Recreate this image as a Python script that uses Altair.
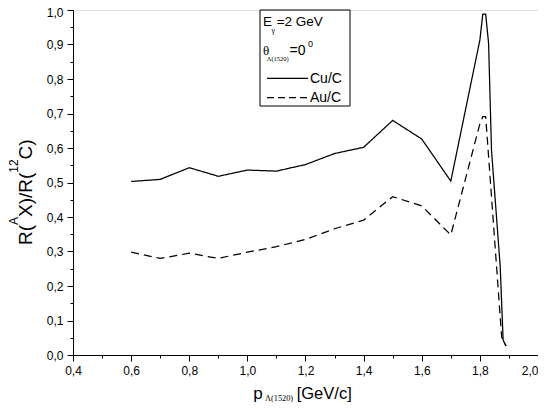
import altair as alt
import pandas as pd

# ---- data ----
cu_p = [0.6, 0.7, 0.8, 0.9, 1.0, 1.1, 1.2, 1.3, 1.4, 1.5, 1.6, 1.7, 1.8, 1.81, 1.82, 1.83, 1.84, 1.87, 1.88, 1.89]
cu_r = [0.503, 0.509, 0.543, 0.518, 0.536, 0.533, 0.552, 0.584, 0.602, 0.680, 0.626, 0.504,
        0.913, 0.988, 0.988, 0.903, 0.594, 0.256, 0.043, 0.026]
au_p = [0.6, 0.7, 0.8, 0.9, 1.0, 1.1, 1.2, 1.3, 1.4, 1.5, 1.6, 1.7, 1.8, 1.81, 1.82, 1.875, 1.89]
au_r = [0.298, 0.280, 0.295, 0.280, 0.298, 0.314, 0.335, 0.366, 0.391, 0.459, 0.432, 0.348,
        0.670, 0.691, 0.691, 0.052, 0.026]
series_names = ["Cu/C", "Au/C"]

x_ticks = [round(0.4 + 0.1 * i, 2) for i in range(17)]
y_ticks = [round(0.05 * i, 2) for i in range(21)]

df = pd.concat([
    pd.DataFrame({"p": cu_p, "r": cu_r, "s": series_names[0]}),
    pd.DataFrame({"p": au_p, "r": au_r, "s": series_names[1]}),
])
one = pd.DataFrame({"a": [0]})

SANS = "Liberation Sans"
SERIF = "Liberation Serif"

x_axis = alt.Axis(
    values=x_ticks, title=None, grid=False,
    labelExpr="abs(round(datum.value*10)) % 2 == 0 ? replace(format(datum.value, '.1f'), '.', ',') : ''",
    tickSize={"condition": {"test": "abs(round(datum.value*10)) % 2 == 0", "value": 6}, "value": 3},
    labelAlign={"condition": {"test": "datum.value > 1.95", "value": "right"}, "value": "center"},
    labelFont=SANS, labelFontSize=12, labelColor="black", labelPadding=4,
    domainColor="black", tickColor="black", labelFlush=False, labelOverlap=False,
)
y_axis = alt.Axis(
    values=y_ticks, title=None, grid=False,
    labelExpr="abs(datum.value*10 - round(datum.value*10)) < 0.001 ? replace(format(datum.value, '.1f'), '.', ',') : ''",
    tickSize={"condition": {"test": "abs(datum.value*10 - round(datum.value*10)) < 0.001", "value": 6}, "value": 3},
    labelOffset={"condition": {"test": "datum.value > 0.99", "value": 2.5}, "value": 0},
    labelFont=SANS, labelFontSize=12, labelColor="black", labelPadding=4,
    domainColor="black", tickColor="black", labelFlush=False, labelOverlap=False,
)

lines = alt.Chart(df).mark_line(strokeWidth=1.25, color="black").encode(
    x=alt.X("p:Q", scale=alt.Scale(domain=[0.4, 2.0], nice=False, zero=False), axis=x_axis),
    y=alt.Y("r:Q", scale=alt.Scale(domain=[0, 1.0], nice=False), axis=y_axis),
    strokeDash=alt.StrokeDash("s:N", scale=alt.Scale(domain=series_names, range=[[1, 0], [8, 5]]), legend=None),
    detail="s:N",
)


def txt(text, x, y, size, font=SANS, angle=0):
    return alt.Chart(one).mark_text(
        text=text, fontSize=size, font=font, angle=angle, align="left",
        baseline="alphabetic", color="black"
    ).encode(x=alt.value(x), y=alt.value(y))


box = alt.Chart(one).mark_rect(filled=False, stroke="black", strokeWidth=1).encode(
    x=alt.value(187), x2=alt.value(277), y=alt.value(0), y2=alt.value(96)
)
solid_sample = alt.Chart(one).mark_rule(color="black", strokeWidth=1.3).encode(
    x=alt.value(194), x2=alt.value(235), y=alt.value(68.3)
)
dash_sample = alt.Chart(one).mark_rule(color="black", strokeWidth=1.3, strokeDash=[7, 4]).encode(
    x=alt.value(194), x2=alt.value(235), y=alt.value(87.7)
)

texts = [
    txt("E", 190, 15.7, 13.5),
    txt("γ", 198.5, 23, 8, SERIF),
    txt("=2 GeV", 203.7, 15.7, 13.5),
    txt("θ", 190, 45, 13, SERIF),
    txt("Λ(1520)", 193.7, 50.7, 6.5, SERIF),
    txt("=0", 216.5, 45, 14),
    txt("0", 235, 36.7, 9),
    txt("Cu/C", 237, 73.3, 14),
    txt("Au/C", 237, 91.7, 14),
    # y-axis title
    txt("R(", -41.3, 235, 19, angle=270),
    txt("A", -55.5, 215, 12, angle=270),
    txt("X)/R(", -41.3, 207, 19, angle=270),
    txt("12", -55.5, 162.7, 12, angle=270),
    txt("C)", -41.3, 149.4, 19, angle=270),
    # x-axis title
    txt("p", 180.3, 389.3, 17),
    txt("Λ(1520)", 192, 391, 8.3, SERIF),
    txt("[GeV/c]", 223.7, 389.3, 16.5),
]

chart = alt.layer(lines, box, solid_sample, dash_sample, *texts).properties(
    width=465, height=345,
    autosize=alt.AutoSizeParams(type="none"),
    padding={"left": 65, "top": 2, "right": 0, "bottom": 49},
).configure_view(stroke=None).configure(background="white")

chart.save("out.html", embed_options={"renderer": "svg", "actions": False})
